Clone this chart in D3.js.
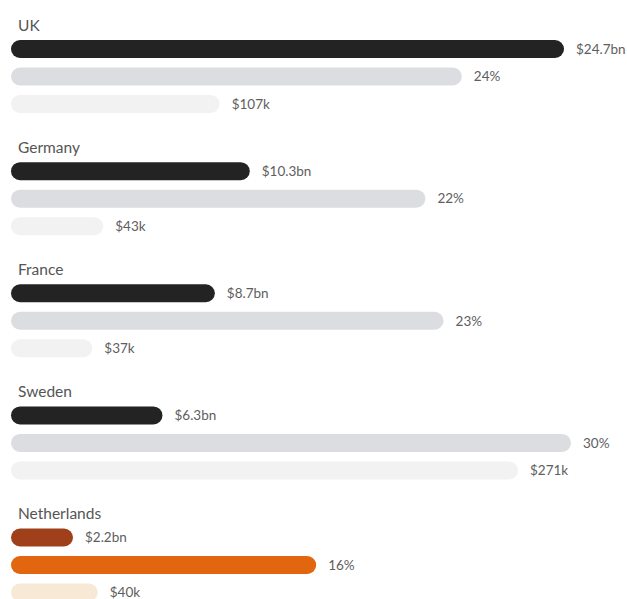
<!DOCTYPE html>
<html>
<head>
<meta charset="utf-8">
<script src="https://cdn.jsdelivr.net/npm/d3@7"></script>
<style>
  html, body { margin: 0; padding: 0; background: #fff; }
  svg { display: block; }
</style>
</head>
<body>
<svg id="chart" width="627" height="599"></svg>
<script>
// Countries and the three measures shown for each
const countries = ["UK", "Germany", "France", "Sweden", "Netherlands"];
const totalBn = [24.7, 10.3, 8.7, 6.3, 2.2];        // $bn
const sharePct = [24, 22, 23, 30, 16];              // %
const perHeadK = [107, 43, 37, 271, 40];            // $k
const totalLabels = ["$24.7bn", "$10.3bn", "$8.7bn", "$6.3bn", "$2.2bn"];
const shareLabels = ["24%", "22%", "23%", "30%", "16%"];
const perHeadLabels = ["$107k", "$43k", "$37k", "$271k", "$40k"];
const highlight = "Netherlands";

const svg = d3.select("#chart");
const x0 = 11;          // bar left edge
const cap = 14;         // minimum visible length (rounded caps)
const barH = 18;

// One scale per measure
const xTotal = d3.scaleLinear().domain([0, 24.7]).range([x0 + cap, 564]);
const xShare = d3.scaleLinear().domain([0, 30]).range([x0 + cap, 571]);
const xHead  = d3.scaleLinear().domain([0, 271]).range([x0 + cap, 518]);

// Vertical layout: one band per country, three rows within it
const yGroup = d3.scalePoint().domain(countries).range([49, 537.5]);
const rowStep = 27.5;

const palettes = {
  normal: ["#232323", "#dcdde0", "#f2f2f3"],
  highlight: ["#a0401a", "#e2650f", "#f7e9d5"]
};

const rows = [
  { values: totalBn, labels: totalLabels, scale: xTotal },
  { values: sharePct, labels: shareLabels, scale: xShare },
  { values: perHeadK, labels: perHeadLabels, scale: xHead }
];

countries.forEach((c, i) => {
  const g = svg.append("g");
  const cy = yGroup(c);
  const pal = c === highlight ? palettes.highlight : palettes.normal;

  g.append("text")
    .attr("x", 18)
    .attr("y", cy - 18.5)
    .attr("font-family", "Lato, 'Open Sans', sans-serif")
    .attr("font-size", 15.5)
    .attr("fill", "#555")
    .text(c);

  rows.forEach((r, j) => {
    const y = cy + j * rowStep;
    const xe = r.scale(r.values[i]);
    g.append("rect")
      .attr("x", x0)
      .attr("y", y - barH / 2)
      .attr("width", xe - x0)
      .attr("height", barH)
      .attr("rx", barH / 2)
      .attr("fill", pal[j]);
    g.append("text")
      .attr("x", xe + 12)
      .attr("y", y)
      .attr("dy", "0.36em")
      .attr("font-family", "Lato, 'Open Sans', sans-serif")
      .attr("font-size", 13.5)
      .attr("fill", "#5e5e5e")
      .text(r.labels[i]);
  });
});
</script>
</body>
</html>
